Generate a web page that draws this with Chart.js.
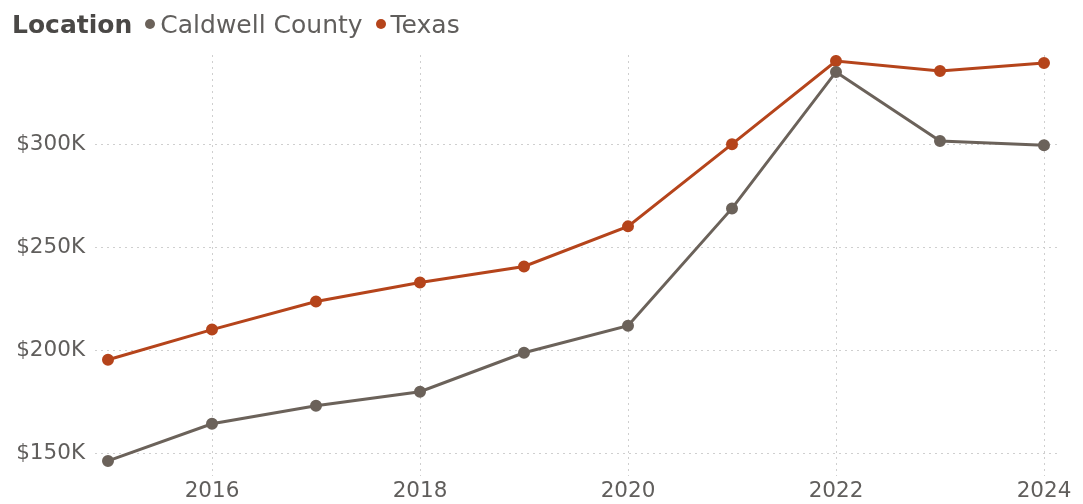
<!DOCTYPE html>
<html>
<head>
<meta charset="utf-8">
<script src="https://cdn.jsdelivr.net/npm/chart.js@4/dist/chart.umd.min.js"></script>
<style>
  body { margin: 0; background: #fff; }
  #wrap { position: relative; width: 1083px; height: 504px; }
  #legend { position: absolute; left: 12px; top: 10px; font-family: "DejaVu Sans", sans-serif; font-size: 25px; color: #605E5C; white-space: nowrap; }
  #legend b { color: #4a4846; font-weight: 700; margin-right: 13px; }
  .dot { display: inline-block; width: 10px; height: 10px; border-radius: 50%; margin-right: 5px; vertical-align: 4px; }
  .item { margin-right: 13px; }
</style>
</head>
<body>
<div id="wrap">
  <div id="legend"></div>
  <canvas id="chart" width="1083" height="504"></canvas>
</div>
<script>
const years = [2015, 2016, 2017, 2018, 2019, 2020, 2021, 2022, 2023, 2024];
const caldwell = [146.6, 164.6, 173.3, 180.1, 199.0, 212.1, 268.9, 335.0, 301.5, 299.5];
const texas = [195.6, 210.2, 223.8, 233.0, 240.8, 260.2, 300.0, 340.3, 335.4, 339.3];
const xTicks = [2016, 2018, 2020, 2022, 2024];
const yTicks = [150, 200, 250, 300];

const seriesNames = ['Caldwell County', 'Texas'];
const seriesColors = ['#6B625A', '#B5441B'];

// legend
const legend = document.getElementById('legend');
legend.innerHTML = '<b>Location</b>' + seriesNames.map((n, i) =>
  '<span class="item"><span class="dot" style="background:' + seriesColors[i] + '"></span>' + n + '</span>').join('');

const toPoints = vals => vals.map((v, i) => ({ x: years[i], y: v }));
const tickFont = { family: '"DejaVu Sans", sans-serif', size: 21.5 };

const ctx = document.getElementById('chart').getContext('2d');
new Chart(ctx, {
  type: 'line',
  data: {
    datasets: [caldwell, texas].map((vals, i) => ({
      label: seriesNames[i],
      data: toPoints(vals),
      borderColor: seriesColors[i],
      backgroundColor: seriesColors[i],
      borderWidth: 3,
      pointRadius: 4.5,
      pointHoverRadius: 4.5,
      tension: 0,
      fill: false,
    })),
  },
  options: {
    responsive: false,
    animation: false,
    layout: { padding: { top: 55, right: 26, left: 0, bottom: 0 } },
    plugins: { legend: { display: false }, tooltip: { enabled: false } },
    scales: {
      x: {
        type: 'linear',
        min: 2014.875,
        max: 2024.125,
        afterBuildTicks: axis => { axis.ticks = xTicks.map(v => ({ value: v })); },
        afterFit: axis => { axis.height = 28; },
        border: { display: false, dash: [2, 4] },
        grid: { color: '#cfcfcf', lineWidth: 1, drawTicks: false },
        ticks: {
          color: '#605E5C',
          font: tickFont,
          padding: 3,
          maxRotation: 0,
          callback: v => String(v),
        },
      },
      y: {
        min: 139.3,
        max: 343.2,
        afterBuildTicks: axis => { axis.ticks = yTicks.map(v => ({ value: v })); },
        afterFit: axis => { axis.width = 95; },
        border: { display: false, dash: [2, 4] },
        grid: { color: '#cfcfcf', lineWidth: 1, drawTicks: false },
        ticks: {
          color: '#605E5C',
          font: tickFont,
          padding: 10,
          callback: v => '$' + v + 'K',
        },
      },
    },
  },
});
</script>
</body>
</html>
